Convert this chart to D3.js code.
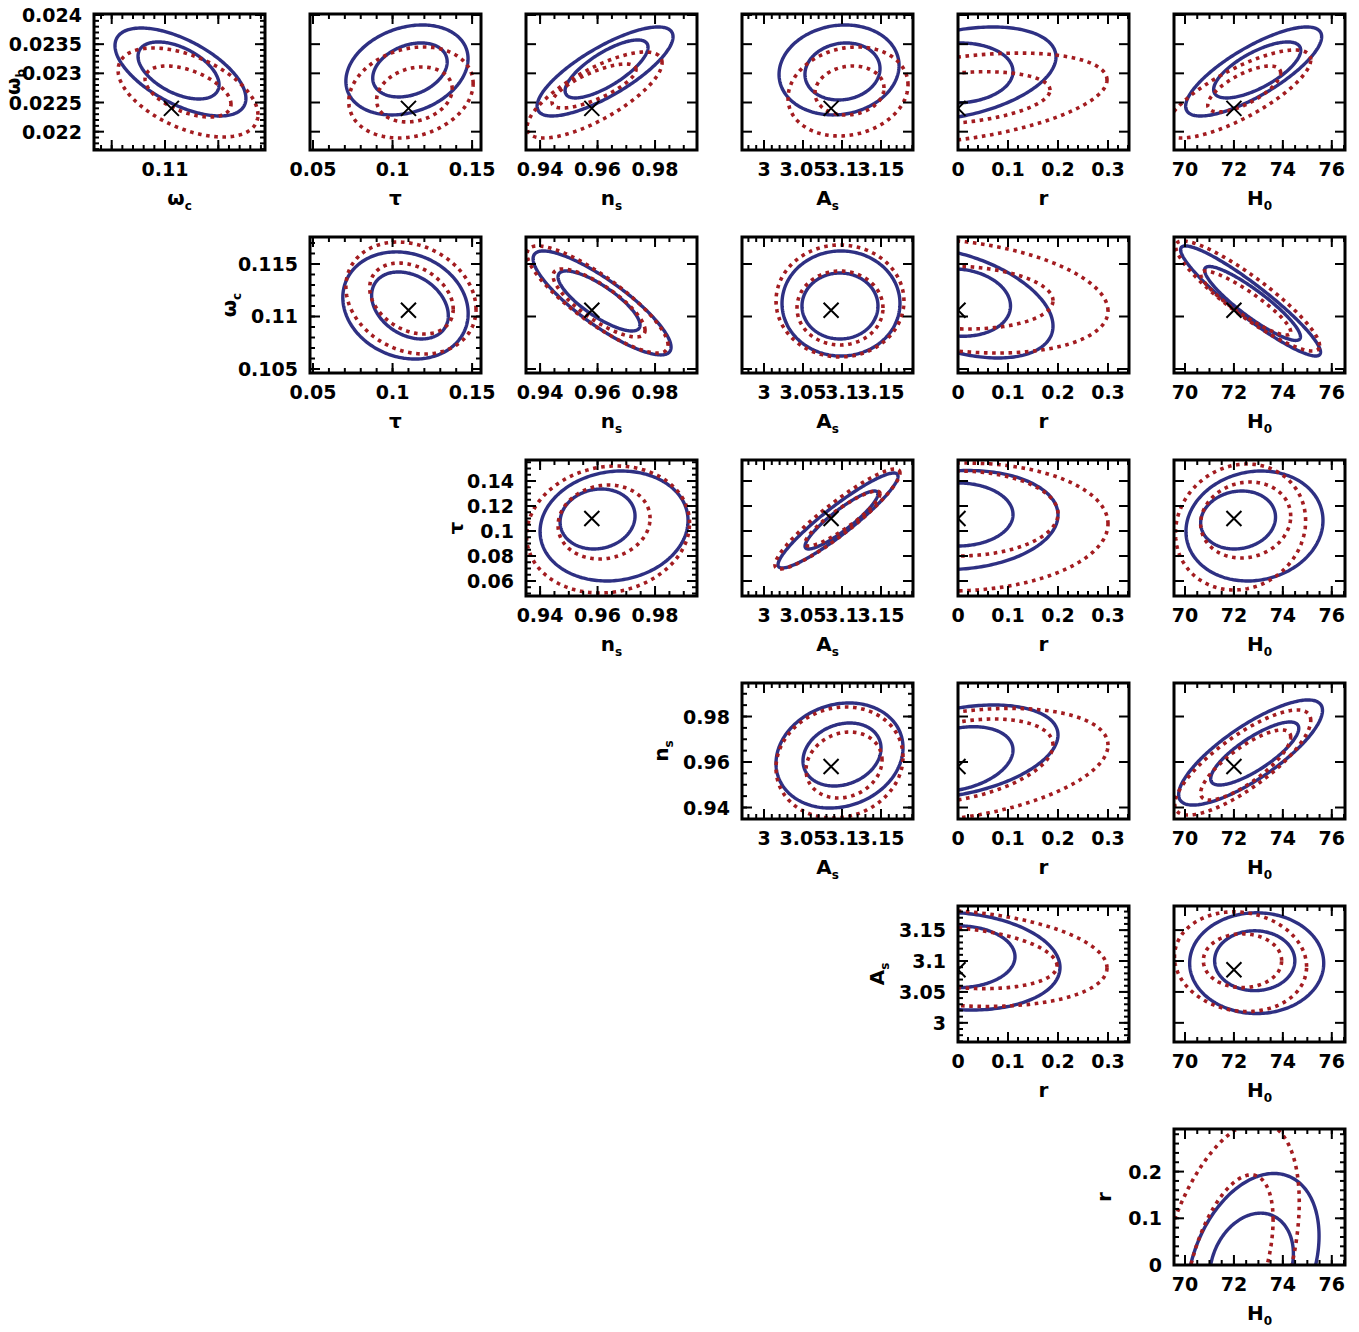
<!DOCTYPE html>
<html><head><meta charset="utf-8">
<script src="https://cdn.jsdelivr.net/npm/d3@7"></script>
<style>
body{margin:0;background:#fff}
svg{display:block}
text{font-family:"DejaVu Sans",sans-serif;font-weight:bold;fill:#000}
</style>
</head><body>
<svg id="chart" width="1359" height="1332"></svg>
<script>
// Parameters along the columns (x) and rows (y) of the triangle
const xParams = ["wc", "tau", "ns", "As", "r", "H0"];
const yParams = ["wb", "wc", "tau", "ns", "As", "r"];

// Axis titles: [main symbol, subscript]
const titleWb = ["ω", "b"], titleWc = ["ω", "c"], titleTau = ["τ", ""], titleNs = ["n", "s"],
      titleAs = ["A", "s"], titleR = ["r", ""], titleH0 = ["H", "0"];

// Plot ranges when a parameter is on the x axis
const xDomWc = [0.10334, 0.11938], xDomTau = [0.0481, 0.1556], xDomNs = [0.9351, 0.9946],
      xDomAs = [2.9718, 3.191], xDomR = [0, 0.342], xDomH0 = [69.55, 76.54];
// Plot ranges when a parameter is on the y axis
const yDomWb = [0.021686, 0.024017], yDomWc = [0.10462, 0.11757], yDomTau = [0.048, 0.1568],
      yDomNs = [0.93495, 0.99473], yDomAs = [2.969, 3.189], yDomR = [0, 0.2912];

// Tick steps [major, minor]
const stepWb = [0.0005, 0.0001], stepWc = [0.005, 0.001], stepTau = [0.05, 0.01], stepTauY = [0.02, 0.005],
      stepNs = [0.02, 0.005], stepAs = [0.05, 0.01], stepR = [0.1, 0.02], stepH0 = [2, 0.5];

// Labelled tick values
const xLabWc = [0.11], xLabTau = [0.05, 0.1, 0.15], xLabNs = [0.94, 0.96, 0.98],
      xLabAs = [3, 3.05, 3.1, 3.15], xLabR = [0, 0.1, 0.2, 0.3], xLabH0 = [70, 72, 74, 76];
const yLabWb = [0.022, 0.0225, 0.023, 0.0235, 0.024], yLabWc = [0.105, 0.11, 0.115],
      yLabTau = [0.06, 0.08, 0.1, 0.12, 0.14], yLabNs = [0.94, 0.96, 0.98],
      yLabAs = [3, 3.05, 3.1, 3.15], yLabR = [0, 0.1, 0.2];

// Fiducial model (cross marker)
const fiducial = {wb: 0.0224, wc: 0.1106, tau: 0.11, ns: 0.958, As: 3.086, r: 0, H0: 72};

// Confidence contours: [x param, y param, x centre, x half-extent, y centre, y half-extent, correlation]
// (68% inner and 95% outer regions)
const blueContours = [
  ["wc","wb",0.11145,0.00614,0.023023,0.000754,-0.6], ["wc","wb",0.11127,0.0038,0.023049,0.000489,-0.5],
  ["tau","wb",0.10906,0.0384,0.023058,0.000771,0.25], ["tau","wb",0.11094,0.0234,0.023058,0.000463,0.3],
  ["ns","wb",0.96261,0.02365,0.023032,0.000763,0.78], ["ns","wb",0.96313,0.01443,0.023075,0.000497,0.75],
  ["As","wb",3.0962,0.0769,0.023058,0.000771,0.1], ["As","wb",3.1006,0.0481,0.023032,0.000489,0.1],
  ["r","wb",0,0.196,0.022998,0.000797,0.355], ["r","wb",0,0.11,0.023006,0.000514,0.05],
  ["H0","wb",72.806,2.78,0.023032,0.000763,0.78], ["H0","wb",72.95,1.78,0.023058,0.00048,0.7],
  ["tau","wc",0.10813,0.0394,0.11105,0.0051,-0.15], ["tau","wc",0.11094,0.0241,0.11105,0.00319,-0.3],
  ["ns","wc",0.96157,0.024,0.11129,0.00495,-0.85], ["ns","wc",0.96052,0.01426,0.11148,0.00286,-0.8],
  ["As","wc",3.0987,0.0756,0.11124,0.005,0], ["As","wc",3.0974,0.0487,0.111,0.00314,0],
  ["r","wc",0,0.19,0.11129,0.00524,-0.42], ["r","wc",0,0.105,0.11133,0.00321,-0.1],
  ["H0","wc",72.68,2.86,0.11148,0.00524,-0.93], ["H0","wc",72.76,1.96,0.11124,0.00352,-0.9],
  ["ns","tau",0.96574,0.02574,0.104,0.044,0.1], ["ns","tau",0.96,0.01304,0.1096,0.024,0.1],
  ["As","tau",3.0949,0.0769,0.1084,0.038,0.93], ["As","tau",3.0994,0.0468,0.1088,0.0232,0.9],
  ["r","tau",0,0.2,0.1088,0.0396,0.1], ["r","tau",0,0.11,0.1132,0.0252,0],
  ["H0","tau",72.84,2.8,0.104,0.044,0.1], ["H0","tau",72.17,1.53,0.1088,0.0232,0.1],
  ["As","ns",3.0968,0.0814,0.96286,0.0231,0.15], ["As","ns",3.1,0.05,0.9633,0.01385,0.2],
  ["r","ns",0,0.2,0.96462,0.02044,0.355], ["r","ns",0,0.11,0.96132,0.0142,0.28],
  ["H0","ns",72.68,2.94,0.96418,0.0231,0.8], ["H0","ns",72.85,1.8,0.96374,0.01385,0.8],
  ["r","As",0,0.204,3.0997,0.079,-0.13], ["r","As",0,0.114,3.1069,0.05,0],
  ["H0","As",72.93,2.74,3.0965,0.0815,0], ["H0","As",72.85,1.64,3.1005,0.0484,0],
  ["H0","r",72.785,2.694,0,0.196,0.317], ["H0","r",72.72,1.71,0,0.111,0.216]
];
const redContours = [
  ["wc","wb",0.11216,0.00656,0.022672,0.000763,-0.5], ["wc","wb",0.11216,0.00403,0.022689,0.000437,-0.5],
  ["tau","wb",0.11156,0.0391,0.022672,0.00078,0.2], ["tau","wb",0.11375,0.02375,0.022638,0.000471,0.2],
  ["ns","wb",0.95896,0.02348,0.022629,0.000737,0.75], ["ns","wb",0.95878,0.01461,0.022783,0.000377,0.75],
  ["As","wb",3.1077,0.0769,0.022689,0.000763,0.15], ["As","wb",3.1096,0.0442,0.022706,0.00042,0.1],
  ["r","wb",0,0.298,0.022569,0.000778,0.41], ["r","wb",0,0.184,0.022578,0.000449,0.3],
  ["H0","wb",72.17,2.97,0.022646,0.000754,0.78], ["H0","wb",72.42,1.49,0.022732,0.000394,0.7],
  ["tau","wc",0.11156,0.0409,0.11176,0.00533,-0.2], ["tau","wc",0.11188,0.02625,0.11171,0.00338,-0.3],
  ["ns","wc",0.96,0.02452,0.11162,0.0051,-0.85], ["ns","wc",0.96052,0.016,0.11129,0.00324,-0.8],
  ["As","wc",3.0974,0.082,0.11148,0.00533,0], ["As","wc",3.0974,0.0551,0.11081,0.00352,0],
  ["r","wc",0,0.3,0.11195,0.00543,-0.26], ["r","wc",0,0.19,0.11181,0.003,-0.1],
  ["H0","wc",72.56,2.94,0.11195,0.00524,-0.9], ["H0","wc",72.48,1.84,0.11129,0.00305,-0.9],
  ["ns","tau",0.96365,0.02835,0.1012,0.0508,0.1], ["ns","tau",0.96226,0.016,0.1072,0.0296,0.1],
  ["As","tau",3.0942,0.0801,0.1096,0.04,0.92], ["As","tau",3.1006,0.0481,0.11,0.022,0.9],
  ["r","tau",0,0.3,0.1032,0.0512,0.05], ["r","tau",0,0.2,0.114,0.034,0],
  ["H0","tau",72.27,2.66,0.1032,0.0504,0.1], ["H0","tau",72.48,1.84,0.1088,0.0304,0.1],
  ["As","ns",3.0968,0.0814,0.95978,0.0244,0.1], ["As","ns",3.1026,0.0487,0.95868,0.0145,0.15],
  ["r","ns",0,0.3,0.95868,0.0249,0.35], ["r","ns",0,0.19,0.96044,0.01846,0.38],
  ["H0","ns",72.36,2.78,0.95978,0.0231,0.8], ["H0","ns",72.48,1.84,0.95868,0.0154,0.8],
  ["r","As",0,0.298,3.1045,0.078,-0.2], ["r","As",0,0.198,3.1053,0.05,-0.26],
  ["H0","As",72.27,2.7,3.0989,0.0806,-0.1], ["H0","As",72.35,1.6,3.1005,0.0435,0],
  ["H0","r",71.69,2.98,0,0.306,0.44], ["H0","r",71.8,1.8,0,0.193,0.5]
];

// Lookup tables built from the arrays above
const xAxisInfo = {
  wc: {dom: xDomWc, step: stepWc, lab: xLabWc, title: titleWc},
  tau: {dom: xDomTau, step: stepTau, lab: xLabTau, title: titleTau},
  ns: {dom: xDomNs, step: stepNs, lab: xLabNs, title: titleNs},
  As: {dom: xDomAs, step: stepAs, lab: xLabAs, title: titleAs},
  r: {dom: xDomR, step: stepR, lab: xLabR, title: titleR},
  H0: {dom: xDomH0, step: stepH0, lab: xLabH0, title: titleH0}
};
const yAxisInfo = {
  wb: {dom: yDomWb, step: stepWb, lab: yLabWb, title: titleWb},
  wc: {dom: yDomWc, step: stepWc, lab: yLabWc, title: titleWc},
  tau: {dom: yDomTau, step: stepTauY, lab: yLabTau, title: titleTau},
  ns: {dom: yDomNs, step: stepNs, lab: yLabNs, title: titleNs},
  As: {dom: yDomAs, step: stepAs, lab: yLabAs, title: titleAs},
  r: {dom: yDomR, step: stepR, lab: yLabR, title: titleR}
};

// Layout
const LEFT0 = 94, TOP0 = 14, COL_STEP = 216, ROW_STEP = 223, PW = 171, PH = 136;
const MAJOR_LEN = 10, MINOR_LEN = 5;
const BLUE = "#2e3083", RED = "#a31c20";

const svg = d3.select("#chart");
const defs = svg.append("defs");

function tickValues(dom, step) {
  const k0 = Math.ceil(dom[0] / step - 1e-6), k1 = Math.floor(dom[1] / step + 1e-6);
  return d3.range(k0, k1 + 1).map(k => k * step);
}

function ellipsePoints(e) {
  const cx = e[2], sx = e[3], cy = e[4], sy = e[5], rho = e[6];
  const q = Math.sqrt(1 - rho * rho);
  return d3.range(0, 240).map(i => {
    const t = i / 240 * 2 * Math.PI;
    return [cx + sx * Math.cos(t), cy + sy * (rho * Math.cos(t) + q * Math.sin(t))];
  });
}

function addTitle(sel, title, fs) {
  sel.append("tspan").text(title[0]).attr("font-size", fs);
  if (title[1]) sel.append("tspan").text(title[1]).attr("font-size", 12).attr("dy", 5);
}

function drawPanel(ri, ci) {
  const xp = xParams[ci], yp = yParams[ri];
  const xa = xAxisInfo[xp], ya = yAxisInfo[yp];
  const left = LEFT0 + ci * COL_STEP, top = TOP0 + ri * ROW_STEP;
  const g = svg.append("g").attr("transform", `translate(${left},${top})`);
  const x = d3.scaleLinear().domain(xa.dom).range([0, PW]);
  const y = d3.scaleLinear().domain(ya.dom).range([PH, 0]);
  const first = ri === ci;

  const cid = `clip-${ri}-${ci}`;
  defs.append("clipPath").attr("id", cid).append("rect").attr("width", PW).attr("height", PH);
  const plot = g.append("g").attr("clip-path", `url(#${cid})`);
  const line = d3.line().x(p => x(p[0])).y(p => y(p[1])).curve(d3.curveLinearClosed);

  blueContours.filter(d => d[0] === xp && d[1] === yp).forEach(d => {
    plot.append("path").attr("d", line(ellipsePoints(d)))
      .attr("fill", "none").attr("stroke", BLUE).attr("stroke-width", 3.4);
  });
  redContours.filter(d => d[0] === xp && d[1] === yp).forEach(d => {
    plot.append("path").attr("d", line(ellipsePoints(d)))
      .attr("fill", "none").attr("stroke", RED).attr("stroke-width", 3.6)
      .attr("stroke-dasharray", "3.6,4.6");
  });

  // fiducial cross (only where it sits above the lower border)
  const fx = x(fiducial[xp]), fy = y(fiducial[yp]);
  if (fy < PH - 1) {
    plot.append("path").attr("d", `M${fx-7.5},${fy-7.5}L${fx+7.5},${fy+7.5}M${fx-7.5},${fy+7.5}L${fx+7.5},${fy-7.5}`)
      .attr("stroke", "#000").attr("stroke-width", 2).attr("fill", "none");
  }

  // ticks
  const ticks = g.append("g").attr("stroke", "#000").attr("stroke-width", 2);
  const xMaj = tickValues(xa.dom, xa.step[0]), xMin = tickValues(xa.dom, xa.step[1]);
  const yMaj = tickValues(ya.dom, ya.step[0]), yMin = first ? tickValues(ya.dom, ya.step[1]) : [];
  const tick = (x1, y1, x2, y2) => ticks.append("line").attr("x1", x1).attr("y1", y1).attr("x2", x2).attr("y2", y2);
  xMin.forEach(v => { const p = x(v); tick(p, PH, p, PH - MINOR_LEN); tick(p, 0, p, MINOR_LEN); });
  xMaj.forEach(v => { const p = x(v); tick(p, PH, p, PH - MAJOR_LEN); tick(p, 0, p, MAJOR_LEN); });
  yMin.forEach(v => { const p = y(v); tick(0, p, MINOR_LEN, p); tick(PW, p, PW - MINOR_LEN, p); });
  yMaj.forEach(v => { const p = y(v); tick(0, p, MAJOR_LEN, p); tick(PW, p, PW - MAJOR_LEN, p); });

  // frame
  g.append("rect").attr("width", PW).attr("height", PH)
    .attr("fill", "none").attr("stroke", "#000").attr("stroke-width", 3);

  // x tick labels and title
  xa.lab.forEach(v => {
    g.append("text").attr("x", x(v)).attr("y", PH + 26).attr("text-anchor", "middle")
      .attr("font-size", 19).text(String(v));
  });
  addTitle(g.append("text").attr("x", PW / 2).attr("y", PH + 55).attr("text-anchor", "middle"), xa.title, 20);

  // y tick labels and title on the first panel of each row
  if (first) {
    ya.lab.forEach(v => {
      g.append("text").attr("x", -12).attr("y", y(v) + 7).attr("text-anchor", "end")
        .attr("font-size", 19).text(String(v));
    });
    const off = ya.title[1] ? -74 : -63;
    addTitle(g.append("text").attr("transform", `translate(${off},${PH / 2}) rotate(-90)`)
      .attr("text-anchor", "middle"), ya.title, 20);
  }
}

for (let ri = 0; ri < 6; ri++) {
  for (let ci = ri; ci < 6; ci++) drawPanel(ri, ci);
}
</script>
</body></html>
